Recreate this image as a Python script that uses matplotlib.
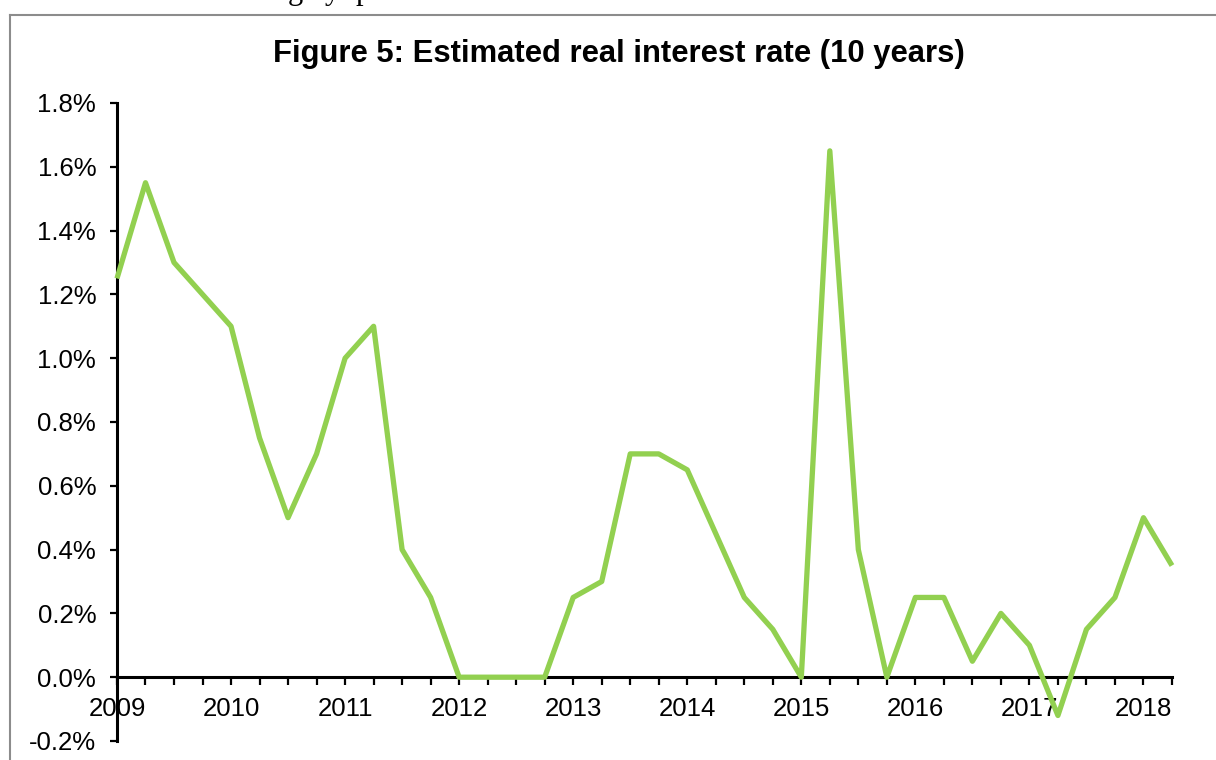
import matplotlib
matplotlib.use("Agg")
import matplotlib.pyplot as plt
from matplotlib.lines import Line2D
from matplotlib.ticker import FuncFormatter, MultipleLocator

plt.rcParams["font.family"] = ["Liberation Sans", "DejaVu Sans"]

# quarterly estimates, 2009 Q1 .. 2018 Q2 (percent)
start_year = 2009
real_rate = [
    1.25, 1.55, 1.30, 1.20,
    1.10, 0.75, 0.50, 0.70,
    1.00, 1.10, 0.40, 0.25,
    0.00, 0.00, 0.00, 0.00,
    0.25, 0.30, 0.70, 0.70,
    0.65, 0.45, 0.25, 0.15,
    0.00, 1.65, 0.40, 0.00,
    0.25, 0.25, 0.05, 0.20,
    0.10, -0.12, 0.15, 0.25,
    0.50, 0.35,
]
quarters = [start_year + i * 0.25 for i in range(len(real_rate))]
years = list(range(2009, 2019))

fig = plt.figure(figsize=(12.16, 7.6), dpi=100)
ax = fig.add_axes([0.0962, 0.025, 0.8676, 0.8395])

ax.plot(quarters, real_rate, color="#92D050", lw=3.8, solid_joinstyle="round",
        solid_capstyle="butt", clip_on=False, zorder=3)

ax.set_xlim(quarters[0], quarters[-1])
ax.set_ylim(-0.2, 1.8)
ax.yaxis.set_major_locator(MultipleLocator(0.2))
ax.yaxis.set_major_formatter(FuncFormatter(lambda v, _: f"{v:.1f}%"))
ax.set_xticks(years)
ax.set_xticklabels([str(y) for y in years])
ax.xaxis.set_minor_locator(MultipleLocator(0.25))

for s in ("top", "right"):
    ax.spines[s].set_visible(False)
ax.spines["bottom"].set_position(("data", 0))
for s in ("bottom", "left"):
    ax.spines[s].set_linewidth(2.2)
    ax.spines[s].set_zorder(2)

ax.tick_params(axis="both", which="both", direction="out", width=1.6,
               labelsize=18.5, colors="black")
ax.tick_params(axis="x", which="both", length=5.5, pad=9)
ax.tick_params(axis="y", length=5, pad=10)

fig.text(0.509, 0.929, "Figure 5: Estimated real interest rate (10 years)",
         ha="center", va="center", fontsize=22.3, fontweight="bold")

# surrounding frame and the tail of the text above it
fig.add_artist(Line2D([10 / 1216, 1.0], [1 - 15 / 760] * 2, color="#8c8c8c", lw=1.5))
fig.add_artist(Line2D([10 / 1216] * 2, [0.0, 1 - 15 / 760], color="#8c8c8c", lw=1.5))
serif = ["Liberation Serif", "DejaVu Serif"]
fig.text(288 / 1216, 1 + 1 / 760, "gl", family=serif, fontsize=22,
         ha="left", va="baseline")
fig.text(325 / 1216, 1 + 1 / 760, "y", family=serif, fontsize=22,
         ha="left", va="baseline")
fig.text(356 / 1216, 1 + 1 / 760, "p", family=serif, fontsize=22,
         ha="left", va="baseline")

fig.savefig("out.png", dpi=100)
